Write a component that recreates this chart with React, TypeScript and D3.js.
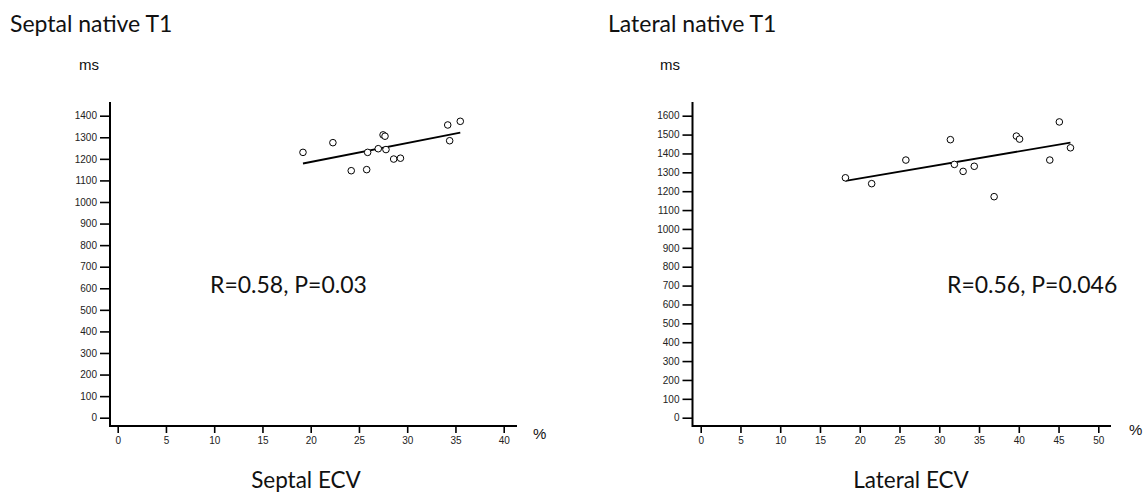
import React, { useEffect, useRef } from 'react';
import * as d3 from 'd3';

// values
const septalEcv = [19.2, 22.3, 24.2, 25.8, 25.9, 27.0, 27.5, 27.7, 27.8, 28.6, 29.3, 34.2, 34.4, 35.5];
const septalT1 = [1230, 1275, 1145, 1150, 1230, 1247, 1311, 1305, 1243, 1199, 1203, 1357, 1284, 1374];
const lateralEcv = [18.2, 21.5, 25.8, 31.4, 31.9, 33.0, 34.4, 36.9, 39.7, 40.1, 43.9, 45.1, 46.5];
const lateralT1 = [1271, 1240, 1365, 1473, 1342, 1305, 1332, 1171, 1492, 1476, 1365, 1567, 1430];

const septalXTicks = [0, 5, 10, 15, 20, 25, 30, 35, 40];
const septalYTicks = [0, 100, 200, 300, 400, 500, 600, 700, 800, 900, 1000, 1100, 1200, 1300, 1400];
const lateralXTicks = [0, 5, 10, 15, 20, 25, 30, 35, 40, 45, 50];
const lateralYTicks = [0, 100, 200, 300, 400, 500, 600, 700, 800, 900, 1000, 1100, 1200, 1300, 1400, 1500, 1600];

const titles = ['Septal native T1', 'Lateral native T1'];
const xTitles = ['Septal ECV', 'Lateral ECV'];
const stats = ['R=0.58, P=0.03', 'R=0.56, P=0.046'];

const W = 1145;
const H = 495;
const CAL = 'Lato, "Open Sans", sans-serif';
const ARIAL = '"Liberation Sans", Arial, sans-serif';

const panels = [
  {
    xs: septalEcv, ys: septalT1, xTicks: septalXTicks, yTicks: septalYTicks,
    title: titles[0], xTitle: xTitles[0], stat: stats[0],
    axisX: 110, x0: 117.7, x1: 503.7, xEnd: 517, titleX: 10, msX: 79,
    pctX: 533, pctY: 439, statX: 210, xTitleX: 306,
  },
  {
    xs: lateralEcv, ys: lateralT1, xTicks: lateralXTicks, yTicks: lateralYTicks,
    title: titles[1], xTitle: xTitles[1], stat: stats[1],
    axisX: 692.5, x0: 700.7, x1: 1098.3, xEnd: 1111, titleX: 608, msX: 660,
    pctX: 1129, pctY: 435, statX: 947, xTitleX: 911,
  },
];

function drawPanel(g: d3.Selection<SVGGElement, unknown, null, undefined>, p: typeof panels[number]) {
  const yTop = 115.7;
  const yZero = 417.7;
  const axisY = 426;
  const xMax = p.xTicks[p.xTicks.length - 1];
  const yMax = p.yTicks[p.yTicks.length - 1];

  const x = d3.scaleLinear().domain([0, xMax]).range([p.x0, p.x1]);
  const y = d3.scaleLinear().domain([0, yMax]).range([yZero, yTop]);

  // y axis
  const yAxis = g.append('g')
    .attr('transform', `translate(${p.axisX},0)`)
    .call(d3.axisLeft(y).tickValues(p.yTicks).tickSize(10).tickPadding(3).tickFormat(d3.format('d')));
  yAxis.select('.domain').remove();
  yAxis.selectAll('line').attr('stroke', '#000').attr('stroke-width', 1.6);
  yAxis.selectAll('text').attr('font-family', ARIAL).attr('font-size', 10).attr('fill', '#222');
  g.append('line')
    .attr('x1', p.axisX).attr('x2', p.axisX)
    .attr('y1', 102).attr('y2', axisY + 1)
    .attr('stroke', '#000').attr('stroke-width', 2);

  // x axis
  const xAxis = g.append('g')
    .attr('transform', `translate(0,${axisY})`)
    .call(d3.axisBottom(x).tickValues(p.xTicks).tickSize(7).tickPadding(4).tickFormat(d3.format('d')));
  xAxis.select('.domain').remove();
  xAxis.selectAll('line').attr('stroke', '#000').attr('stroke-width', 1.6);
  xAxis.selectAll('text').attr('font-family', ARIAL).attr('font-size', 10).attr('fill', '#222');
  g.append('line')
    .attr('x1', p.axisX).attr('x2', p.xEnd)
    .attr('y1', axisY).attr('y2', axisY)
    .attr('stroke', '#000').attr('stroke-width', 2);

  // least squares line over the data range
  const mx = d3.mean(p.xs)!;
  const my = d3.mean(p.ys)!;
  const sxy = d3.sum(p.xs, (v, i) => (v - mx) * (p.ys[i] - my));
  const sxx = d3.sum(p.xs, v => (v - mx) * (v - mx));
  const slope = sxy / sxx;
  const [lo, hi] = d3.extent(p.xs) as [number, number];
  g.append('path')
    .attr('d', d3.line()([[x(lo), y(my + slope * (lo - mx))], [x(hi), y(my + slope * (hi - mx))]]))
    .attr('stroke', '#000').attr('stroke-width', 1.8).attr('fill', 'none');

  g.append('g').selectAll('circle')
    .data(p.xs)
    .join('circle')
    .attr('cx', d => x(d))
    .attr('cy', (d, i) => y(p.ys[i]))
    .attr('r', 3.3)
    .attr('fill', '#fff')
    .attr('stroke', '#000')
    .attr('stroke-width', 1);

  // labels
  g.append('text').attr('x', p.titleX).attr('y', 32)
    .attr('font-family', CAL).attr('font-size', 23).attr('fill', '#111').text(p.title);
  g.append('text').attr('x', p.msX).attr('y', 70)
    .attr('font-family', ARIAL).attr('font-size', 15).attr('fill', '#111').text('ms');
  g.append('text').attr('x', p.pctX).attr('y', p.pctY)
    .attr('font-family', ARIAL).attr('font-size', 15).attr('fill', '#111').text('%');
  g.append('text').attr('x', p.statX).attr('y', 293)
    .attr('font-family', CAL).attr('font-size', 23).attr('fill', '#111').text(p.stat);
  g.append('text').attr('x', p.xTitleX).attr('y', 488).attr('text-anchor', 'middle')
    .attr('font-family', CAL).attr('font-size', 22.5).attr('fill', '#111').text(p.xTitle);
}

export default function App() {
  const ref = useRef<SVGSVGElement>(null);

  useEffect(() => {
    const svg = d3.select(ref.current);
    svg.selectAll('*').remove();
    panels.forEach(p => drawPanel(svg.append('g') as any, p));
  }, []);

  return (
    <div style={{ position: 'absolute', left: 0, top: 0 }}>
      <svg ref={ref} width={W} height={H} style={{ display: 'block', background: '#fff' }} />
    </div>
  );
}
